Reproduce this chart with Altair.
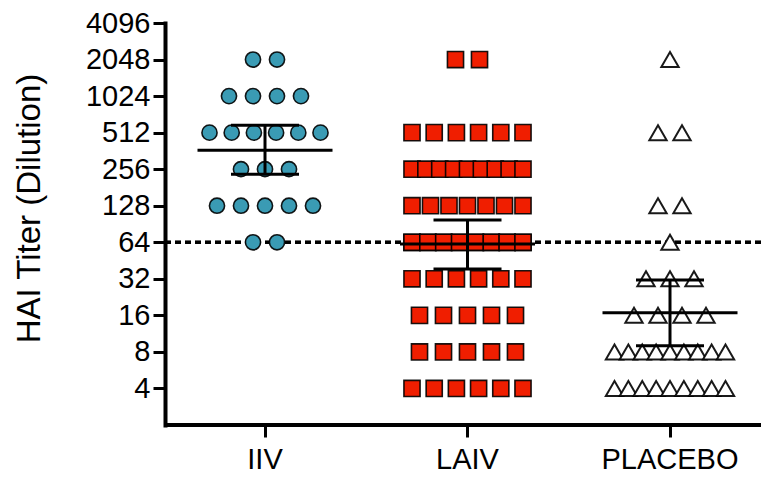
import altair as alt
import pandas as pd
import math

groups = ["IIV", "LAIV", "PLACEBO"]
titers = [2048, 1024, 512, 256, 128, 64, 32, 16, 8, 4]
counts_iiv = [2, 4, 6, 3, 5, 2, 0, 0, 0, 0]
counts_laiv = [2, 0, 6, 9, 7, 16, 6, 5, 5, 6]
counts_placebo = [1, 0, 2, 0, 2, 1, 3, 4, 9, 9]

geo_mean = [367, 62, 16.8]
ci_low = [232, 38.5, 9.0]
ci_high = [588, 97.5, 31.3]

tick_values = [4, 8, 16, 32, 64, 128, 256, 512, 1024, 2048, 4096]
threshold = 64
y_floor = 2

colors = {"IIV": "#3A9BB4", "LAIV": "#F01E00", "PLACEBO": "#FFFFFF"}

# layout: band scale with 202.5 px step, band centres 100 / 302.5 / 505 px
step = 202.5
first_center = 100.0
half = step / 2

rows = []
for g, counts in zip(groups, [counts_iiv, counts_laiv, counts_placebo]):
    for t, c in zip(titers, counts):
        if c == 0:
            continue
        nrows = 2 if c > 9 else 1
        per = math.ceil(c / nrows)
        left = c
        for r in range(nrows):
            n = min(per, left)
            left -= n
            s = 24.0 if n < 2 else min(24.0, 111.0 / (n - 1))
            yo = 0 if nrows == 1 else (r - (nrows - 1) / 2) * 9
            for i in range(n):
                rows.append({"group": g, "titer": t,
                             "xo": half + (i - (n - 1) / 2) * s, "yo": yo})
pts = pd.DataFrame(rows)
stats = pd.DataFrame({"group": groups, "gm": geo_mean, "lo": ci_low, "hi": ci_high})

r0 = first_center - half
xscale = alt.Scale(type="band", domain=groups, range=[r0, r0 + 3 * step],
                   paddingInner=0, paddingOuter=0)
yscale = alt.Scale(type="log", base=2, domain=[y_floor, 4096])

xenc = alt.X("group:N", scale=xscale, sort=groups,
             axis=alt.Axis(title=None, labelAngle=0, labelPadding=8, labelFontSize=29,
                           domain=False))
yaxis = alt.Axis(values=tick_values, format="d", title="HAI Titer (Dilution)",
                 titleFontSize=33, titleFontWeight="normal", titleX=-136, titleY=185,
                 titleAlign="center", titleBaseline="middle", labelPadding=3)

rule = alt.Chart(stats).mark_rule(color="black", strokeWidth=3, strokeDash=[6, 4]).encode(
    y=alt.datum(threshold, scale=yscale)
)
baseline = alt.Chart(stats).mark_rule(color="black", strokeWidth=4).encode(
    y=alt.datum(y_floor, scale=yscale)
)

def pointlayer(g, shape, size, sw):
    return alt.Chart(pts[pts.group == g]).mark_point(
        shape=shape, size=size, filled=True, fill=colors[g], stroke="black",
        strokeWidth=sw, opacity=1, fillOpacity=1, strokeOpacity=0.9
    ).encode(
        x=xenc,
        xOffset=alt.XOffset("xo:Q", scale=None),
        y=alt.Y("titer:Q", scale=yscale, axis=yaxis),
        yOffset=alt.YOffset("yo:Q", scale=None),
    )

p1 = pointlayer("IIV", "circle", 230, 1.6)
p2 = pointlayer("LAIV", "square", 260, 1.6)
p3 = pointlayer("PLACEBO", "triangle-up", 300, 2.0)

meanline = alt.Chart(stats).mark_tick(color="black", size=135, thickness=3, opacity=1).encode(
    x=xenc, y=alt.Y("gm:Q", scale=yscale, axis=yaxis))
caplo = alt.Chart(stats).mark_tick(color="black", size=68, thickness=3, opacity=1).encode(
    x=xenc, y=alt.Y("lo:Q", scale=yscale, axis=yaxis))
caphi = alt.Chart(stats).mark_tick(color="black", size=68, thickness=3, opacity=1).encode(
    x=xenc, y=alt.Y("hi:Q", scale=yscale, axis=yaxis))
vbar = alt.Chart(stats).mark_rule(color="black", strokeWidth=3).encode(
    x=xenc, y=alt.Y("lo:Q", scale=yscale, axis=yaxis), y2="hi:Q")

chart = alt.layer(rule, baseline, p1, p2, p3, vbar, meanline, caplo, caphi).properties(
    width=596, height=402,
    autosize=alt.AutoSizeParams(type="none"),
    padding={"left": 157, "top": 15, "right": 0, "bottom": 49},
).configure_view(stroke=None).configure_axis(
    grid=False, domainColor="black", domainWidth=4, tickColor="black", tickWidth=3,
    tickSize=12, labelColor="black", labelFont="Liberation Sans", labelFontSize=29,
    titleFont="Liberation Sans", titleColor="black", domainCap="square",
)

chart.save("out.html", embed_options={"renderer": "svg", "actions": False})
